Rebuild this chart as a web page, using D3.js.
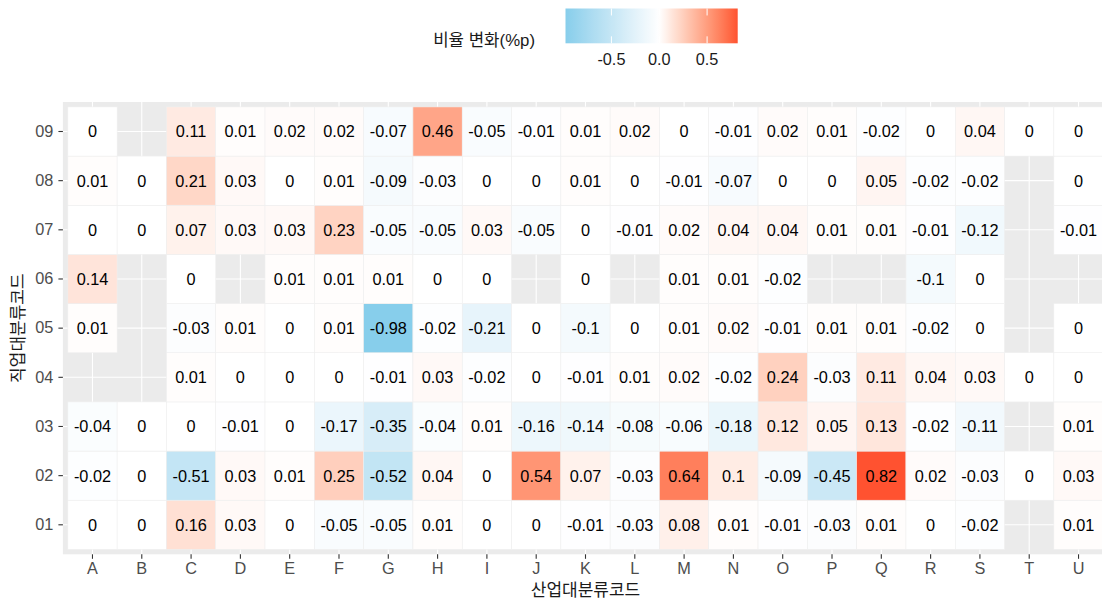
<!DOCTYPE html>
<html>
<head>
<meta charset="utf-8">
<script src="https://cdn.jsdelivr.net/npm/d3@7"></script>
<style>
  body { margin: 0; background: #fff; }
  svg { display: block; }
  text { font-family: "Liberation Sans", Arial, "Noto Sans CJK KR", sans-serif; }
</style>
</head>
<body>
<svg id="chart" width="1102" height="600"></svg>
<script>
// ---- data ----
const industryCodes = ["A","B","C","D","E","F","G","H","I","J","K","L","M","N","O","P","Q","R","S","T","U"];
const occupationCodes = ["01","02","03","04","05","06","07","08","09"];
// values by occupation code, in industry order A..U (null = no data)
const occ09 = [0, null, 0.11, 0.01, 0.02, 0.02, -0.07, 0.46, -0.05, -0.01, 0.01, 0.02, 0, -0.01, 0.02, 0.01, -0.02, 0, 0.04, 0, 0];
const occ08 = [0.01, 0, 0.21, 0.03, 0, 0.01, -0.09, -0.03, 0, 0, 0.01, 0, -0.01, -0.07, 0, 0, 0.05, -0.02, -0.02, null, 0];
const occ07 = [0, 0, 0.07, 0.03, 0.03, 0.23, -0.05, -0.05, 0.03, -0.05, 0, -0.01, 0.02, 0.04, 0.04, 0.01, 0.01, -0.01, -0.12, null, -0.01];
const occ06 = [0.14, null, 0, null, 0.01, 0.01, 0.01, 0, 0, null, 0, null, 0.01, 0.01, -0.02, null, null, -0.1, 0, null, null];
const occ05 = [0.01, null, -0.03, 0.01, 0, 0.01, -0.98, -0.02, -0.21, 0, -0.1, 0, 0.01, 0.02, -0.01, 0.01, 0.01, -0.02, 0, null, 0];
const occ04 = [null, null, 0.01, 0, 0, 0, -0.01, 0.03, -0.02, 0, -0.01, 0.01, 0.02, -0.02, 0.24, -0.03, 0.11, 0.04, 0.03, 0, 0];
const occ03 = [-0.04, 0, 0, -0.01, 0, -0.17, -0.35, -0.04, 0.01, -0.16, -0.14, -0.08, -0.06, -0.18, 0.12, 0.05, 0.13, -0.02, -0.11, null, 0.01];
const occ02 = [-0.02, 0, -0.51, 0.03, 0.01, 0.25, -0.52, 0.04, 0, 0.54, 0.07, -0.03, 0.64, 0.1, -0.09, -0.45, 0.82, 0.02, -0.03, 0, 0.03];
const occ01 = [0, 0, 0.16, 0.03, 0, -0.05, -0.05, 0.01, 0, 0, -0.01, -0.03, 0.08, 0.01, -0.01, -0.03, 0.01, 0, -0.02, null, 0.01];
const legendTicks = [-0.5, 0.0, 0.5];
const legendTitle = "비율 변화(%p)";
const xTitle = "산업대분류코드";
const yTitle = "직업대분류코드";

const rows = {"01": occ01, "02": occ02, "03": occ03, "04": occ04, "05": occ05,
              "06": occ06, "07": occ07, "08": occ08, "09": occ09};
const cells = [];
occupationCodes.forEach(o => {
  rows[o].forEach((v, i) => {
    if (v !== null) cells.push({x: industryCodes[i], y: o, v: v});
  });
});

// ---- layout ----
const svg = d3.select("#chart");
const panel = {left: 62.9, right: 1108.1, top: 102, bottom: 554.3};

const x = d3.scaleBand().domain(industryCodes)
  .range([panel.left, panel.right]).paddingInner(0).paddingOuter(0.1);
const y = d3.scaleBand().domain(occupationCodes)
  .range([panel.bottom, panel.top]).paddingInner(0).paddingOuter(0.1);

// colour: gradient2 (skyblue - white - red), rescaled around 0 by max |v|
const vExtent = d3.extent(cells, d => d.v);
const maxAbs = d3.max(cells, d => Math.abs(d.v));
const posI = d3.interpolateLab("white", "red");
const negI = d3.interpolateLab("white", "skyblue");
const fill = v => v >= 0 ? posI(v / maxAbs) : negI(-v / maxAbs);

const FS = 16.3;

// panel background
svg.append("rect")
  .attr("x", panel.left).attr("y", panel.top)
  .attr("width", panel.right - panel.left).attr("height", panel.bottom - panel.top)
  .attr("fill", "#EBEBEB");

// grid lines
const grid = svg.append("g");
industryCodes.forEach(c => {
  const cx = x(c) + x.bandwidth() / 2;
  grid.append("line").attr("x1", cx).attr("x2", cx)
    .attr("y1", panel.top).attr("y2", panel.bottom)
    .attr("stroke", "#fff").attr("stroke-width", 1.1);
});
occupationCodes.forEach(c => {
  const cy = y(c) + y.bandwidth() / 2;
  grid.append("line").attr("x1", panel.left).attr("x2", panel.right)
    .attr("y1", cy).attr("y2", cy)
    .attr("stroke", "#fff").attr("stroke-width", 1.1);
});

// tiles
svg.append("g").selectAll("rect").data(cells).join("rect")
  .attr("x", d => x(d.x)).attr("y", d => y(d.y))
  .attr("width", x.bandwidth()).attr("height", y.bandwidth())
  .attr("fill", d => fill(d.v))
  .attr("stroke", "#EFEFEF").attr("stroke-width", 0.6);

// cell labels
const fmt = v => String(+v.toFixed(2));
svg.append("g").selectAll("text").data(cells).join("text")
  .attr("x", d => x(d.x) + x.bandwidth() / 2)
  .attr("y", d => y(d.y) + y.bandwidth() / 2)
  .attr("text-anchor", "middle").attr("dominant-baseline", "central")
  .attr("font-size", FS).attr("fill", "#000")
  .text(d => fmt(d.v));

// axes
const xAxis = d3.axisBottom(x).tickSize(4.5).tickPadding(4);
const gx = svg.append("g").attr("transform", `translate(0,${panel.bottom})`).call(xAxis);
gx.select(".domain").remove();
gx.selectAll(".tick line").attr("stroke", "#333").attr("stroke-width", 1.1);
gx.selectAll(".tick text").attr("font-size", FS).attr("fill", "#4D4D4D")
  .attr("font-family", "Liberation Sans, Arial, sans-serif");

const yAxis = d3.axisLeft(y).tickSize(4.5).tickPadding(5);
const gy = svg.append("g").attr("transform", `translate(${panel.left},0)`).call(yAxis);
gy.select(".domain").remove();
gy.selectAll(".tick line").attr("stroke", "#333").attr("stroke-width", 1.1);
gy.selectAll(".tick text").attr("font-size", FS).attr("fill", "#4D4D4D")
  .attr("font-family", "Liberation Sans, Arial, sans-serif");

// axis titles
svg.append("text")
  .attr("x", (panel.left + panel.right) / 2).attr("y", 588)
  .attr("text-anchor", "middle").attr("dominant-baseline", "central")
  .attr("font-size", 17).attr("fill", "#1A1A1A")
  .style("font-family", "'Noto Sans CJK KR', sans-serif")
  .text(xTitle);
svg.append("text")
  .attr("transform", `translate(16,${(panel.top + panel.bottom) / 2}) rotate(-90)`)
  .attr("text-anchor", "middle").attr("dominant-baseline", "central")
  .attr("font-size", 17).attr("fill", "#1A1A1A")
  .style("font-family", "'Noto Sans CJK KR', sans-serif")
  .text(yTitle);

// legend
const leg = {x0: 565.5, x1: 737.7, y0: 8.5, y1: 43.3};
const lx = d3.scaleLinear().domain(vExtent).range([leg.x0, leg.x1]);
const defs = svg.append("defs");
const grad = defs.append("linearGradient").attr("id", "lg")
  .attr("x1", "0%").attr("x2", "100%").attr("y1", "0%").attr("y2", "0%");
const nStops = 60;
d3.range(nStops + 1).forEach(i => {
  const t = i / nStops;
  const v = vExtent[0] + t * (vExtent[1] - vExtent[0]);
  grad.append("stop").attr("offset", (t * 100) + "%").attr("stop-color", fill(v));
});
svg.append("rect")
  .attr("x", leg.x0).attr("y", leg.y0)
  .attr("width", leg.x1 - leg.x0).attr("height", leg.y1 - leg.y0)
  .attr("fill", "url(#lg)");
const tickLen = (leg.y1 - leg.y0) / 5;
legendTicks.forEach(t => {
  const tx = lx(t);
  svg.append("line").attr("x1", tx).attr("x2", tx).attr("y1", leg.y0).attr("y2", leg.y0 + tickLen)
    .attr("stroke", "#fff").attr("stroke-width", 1);
  svg.append("line").attr("x1", tx).attr("x2", tx).attr("y1", leg.y1 - tickLen).attr("y2", leg.y1)
    .attr("stroke", "#fff").attr("stroke-width", 1);
  svg.append("text").attr("x", tx).attr("y", 59)
    .attr("text-anchor", "middle").attr("dominant-baseline", "central")
    .attr("font-size", FS).attr("fill", "#1A1A1A")
    .text(d3.format(".1f")(t).replace("−", "-"));
});
svg.append("text")
  .attr("x", 535).attr("y", 40)
  .attr("text-anchor", "end").attr("dominant-baseline", "central")
  .attr("font-size", 16.8).attr("fill", "#1A1A1A")
  .text(legendTitle);
</script>
</body>
</html>
